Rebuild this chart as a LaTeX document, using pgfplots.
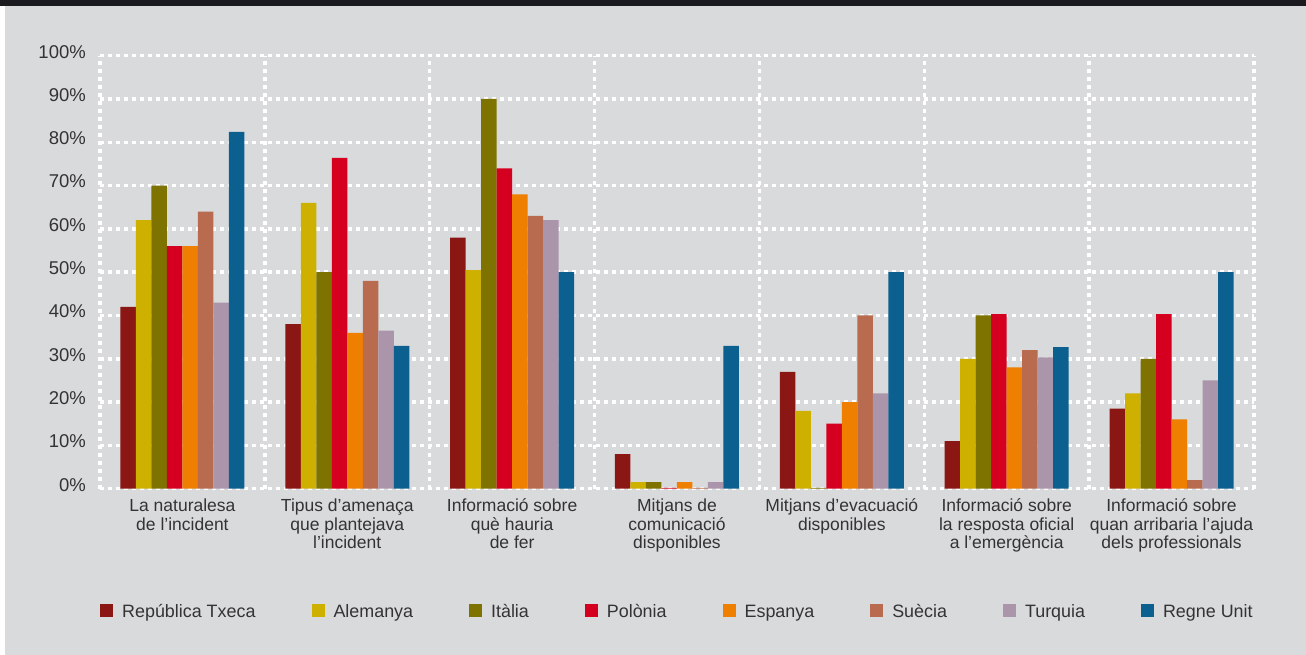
\documentclass[border=0pt]{standalone}
\usepackage{fontspec}
\setmainfont{Liberation Sans}
\usepackage{pgfplots}
\pgfplotsset{compat=1.18}
\definecolor{bggray}{RGB}{217,218,220}
\definecolor{topbar}{HTML}{1B1A1F}
\definecolor{textgray}{HTML}{333335}
\definecolor{cz}{HTML}{8B1714}
\definecolor{de}{HTML}{CDB000}
\definecolor{it}{HTML}{7E7300}
\definecolor{pl}{HTML}{D5001F}
\definecolor{es}{HTML}{EE7F00}
\definecolor{se}{HTML}{B86B4E}
\definecolor{tr}{HTML}{AB95AB}
\definecolor{uk}{HTML}{0B6090}
\begin{document}
\begin{tikzpicture}
\fill[bggray] (0,0) rectangle (1306bp,655bp);
\fill[white] (0,0) rectangle (5bp,649bp);
\fill[topbar] (0,649bp) rectangle (1306bp,655bp);
\begin{axis}[
  at={(100bp,166.3bp)}, anchor=south west, scale only axis,
  width=1154bp, height=433bp,
  xmin=-0.5, xmax=6.5, ymin=0, ymax=100,
  ybar=0pt, bar width=15.5bp,
  axis line style={draw=none},
  major tick length=0pt, minor tick length=0pt,
  xtick={0,1,2,3,4,5,6},
  minor xtick={-0.5,0.5,1.5,2.5,3.5,4.5,5.5,6.5},
  ytick={0,10,20,30,40,50,60,70,80,90,100},
  yticklabels={0\%,10\%,20\%,30\%,40\%,50\%,60\%,70\%,80\%,90\%,100\%},
  xticklabels={
    {La naturalesa\\de l’incident},
    {Tipus d’amenaça\\que plantejava\\l’incident},
    {Informació sobre\\què hauria\\de fer},
    {Mitjans de\\comunicació\\disponibles},
    {Mitjans d’evacuació\\disponibles},
    {Informació sobre\\la resposta oficial\\a l’emergència},
    {Informació sobre\\quan arribaria l’ajuda\\dels professionals}},
  xminorgrids=true, ymajorgrids=true, xmajorgrids=false,
  major grid style={white, line width=3.5bp, dash pattern=on 3.5bp off 4.5bp},
  minor grid style={white, line width=3.5bp, dash pattern=on 3.5bp off 4.5bp},
  xticklabel style={font=\fontsize{17.5bp}{18.5bp}\selectfont, text=textgray, align=center, inner sep=0pt, anchor=north, yshift=-10bp},
  yticklabel style={font=\fontsize{18.5bp}{19bp}\selectfont, text=textgray, inner sep=0pt, anchor=east, xshift=-14bp, yshift=4bp},
  legend image code/.code={\fill[#1] (0bp,-5bp) rectangle (13bp,8bp);},
  legend style={draw=none, fill=none, at={(0,-0.284)}, anchor=west,
    legend columns=-1, inner xsep=0pt, inner ysep=0pt,
    font=\fontsize{17.9bp}{18.5bp}\selectfont, text=textgray,
    nodes={inner sep=0pt},
    /tikz/every odd column/.append style={column sep=9bp},
    /tikz/every even column/.append style={column sep=56bp}},
]
\addplot[fill=cz, draw=none] coordinates {(0,42) (1,38) (2,58) (3,8) (4,27) (5,11) (6,18.5)};
\addplot[fill=de, draw=none] coordinates {(0,62) (1,66) (2,50.5) (3,1.5) (4,18) (5,30) (6,22)};
\addplot[fill=it, draw=none] coordinates {(0,70) (1,50) (2,90) (3,1.5) (4,0.2) (5,40) (6,30)};
\addplot[fill=pl, draw=none] coordinates {(0,56) (1,76.4) (2,74) (3,0.2) (4,15) (5,40.3) (6,40.3)};
\addplot[fill=es, draw=none] coordinates {(0,56) (1,36) (2,68) (3,1.5) (4,20) (5,28) (6,16)};
\addplot[fill=se, draw=none] coordinates {(0,64) (1,48) (2,63) (3,0.2) (4,40) (5,32) (6,2)};
\addplot[fill=tr, draw=none] coordinates {(0,43) (1,36.5) (2,62) (3,1.5) (4,22) (5,30.3) (6,25)};
\addplot[fill=uk, draw=none] coordinates {(0,82.4) (1,33) (2,50) (3,33) (4,50) (5,32.7) (6,50)};
\legend{República Txeca, Alemanya, Itàlia, Polònia, Espanya, Suècia, Turquia, Regne Unit}
\end{axis}
\pgfresetboundingbox
\path (0,0) rectangle (1306bp,655bp);
\end{tikzpicture}
\end{document}
